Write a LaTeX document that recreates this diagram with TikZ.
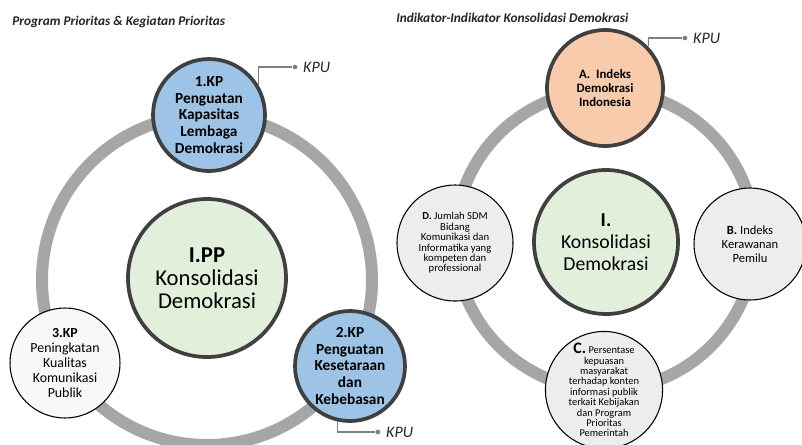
\documentclass[tikz,border=0pt]{standalone}
\usepackage{fontspec}
\setmainfont{Carlito}
\usepackage{tikz}
\usetikzlibrary{calc,positioning}
\definecolor{ringgray}{HTML}{A6A6A6}
\definecolor{rimdark}{HTML}{404040}
\definecolor{kpblue}{HTML}{9DC3E6}
\definecolor{hubgreen}{HTML}{E2EFDA}
\definecolor{peach}{HTML}{F8CBAD}
\definecolor{leafgray}{HTML}{EDEDED}
\definecolor{callgray}{HTML}{7F7F7F}
\definecolor{titlegray}{HTML}{262626}

\begin{document}
\begin{tikzpicture}
[
	x=0.75pt, y=-0.75pt,
	ring/.style = {draw=ringgray, line width=9pt},
	hub/.style = {draw=rimdark, line width=2.8pt, circle, fill=hubgreen, align=center, inner sep=0pt},
	kp/.style = {draw=rimdark, line width=2.8pt, circle, fill=kpblue, align=center, inner sep=0pt, minimum size=84pt, font=\bfseries\fontsize{11.5}{12.6}\selectfont},
	leaf/.style = {draw=black, line width=0.8pt, circle, fill=leafgray, align=center, inner sep=0pt},
	title/.style = {anchor=west, inner sep=0pt, text=titlegray, font=\bfseries\itshape\fontsize{10}{12}\selectfont},
	dot/.style = {circle, fill=callgray, inner sep=0pt, minimum size=3.5pt},
	callout/.style = {draw=callgray, line width=0.8pt},
	kpu/.style = {inner sep=0pt, text=titlegray, font=\itshape\fontsize{12}{13}\selectfont},
]
\fill[white] (0,0) rectangle (802,444);
\useasboundingbox (0,0) rectangle (802,444);

% Program Prioritas
\node[title] (tl) at (12,22) {Program Prioritas \& Kegiatan Prioritas};
\coordinate (lc) at (207,280);
\draw[ring] (lc) circle[radius=123.75pt];

\node[hub, minimum size=118.5pt, font=\fontsize{17}{17.3}\selectfont] (pp) at (207,278) {\textbf{I.PP}\\Konsolidasi\\Demokrasi};
\node[kp] (kp1) at (209,115) {1.KP\\Penguatan\\Kapasitas\\Lembaga\\Demokrasi};
\node[kp, minimum size=82.5pt] (kp2) at (350,366) {2.KP\\Penguatan\\Kesetaraan\\dan\\Kebebasan};
\node[leaf, fill=white!60!leafgray, minimum size=82.5pt, font=\fontsize{10.4}{11.4}\selectfont] (kp3) at (65,363) {\textbf{3.KP}\\Peningkatan\\Kualitas\\Komunikasi\\Publik};

\node[dot] (d1) at (295,67) {};
\node[kpu, right=4pt of d1] (kpu1) {KPU};
\draw[callout] (kp1.31) |- (d1);
\node[dot] (d2) at (378,432) {};
\node[kpu, right=4pt of d2] (kpu2) {KPU};
\draw[callout] (kp2.257) |- (d2);

% Indikator
\node[title] (tr) at (396,18) {Indikator-Indikator Konsolidasi Demokrasi};
\coordinate (rc) at (605,240);
\draw[ring] (rc) circle[radius=112.5pt];

\node[hub, minimum size=108pt, font=\fontsize{14.8}{16.3}\selectfont] (ik) at (606,242) {\textbf{I.}\\Konsolidasi\\Demokrasi};
\node[kp, fill=peach, minimum size=87pt, font=\bfseries\fontsize{9.6}{10.5}\selectfont] (ia) at (605,88) {A.~~Indeks\\Demokrasi\\Indonesia};
\node[leaf, minimum size=84pt, font=\fontsize{9.4}{10.7}\selectfont] (ib) at (750,244) {\textbf{B.} Indeks\\Kerawanan\\Pemilu};
\node[leaf, minimum size=84pt, font=\fontsize{7.8}{7.8}\selectfont] (ic) at (604,390) {\textbf{\large C.} Persentase\\kepuasan\\masyarakat\\terhadap konten\\informasi publik\\terkait Kebijakan\\dan Program\\Prioritas\\Pemerintah};
\node[leaf, minimum size=87pt, font=\fontsize{8}{7.8}\selectfont] (id) at (455,243) {\textbf{D.} Jumlah SDM\\Bidang\\Komunikasi dan\\Informatika yang\\kompeten dan\\professional};

\node[dot] (d3) at (685,38) {};
\node[kpu, right=4pt of d3] (kpu3) {KPU};
\draw[callout] (ia.44) |- (d3);
\end{tikzpicture}
\end{document}
